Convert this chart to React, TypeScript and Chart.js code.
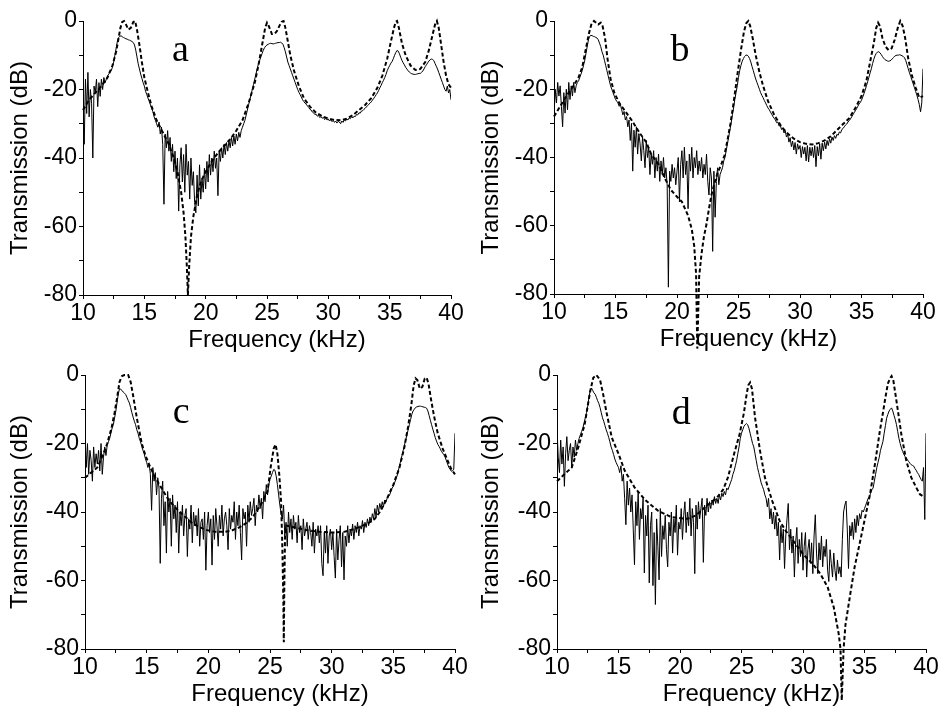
import React, { useEffect, useRef } from 'react';
import { Chart, registerables } from 'chart.js';

Chart.register(...registerables);

// Frequency grid of the measured (solid) curves: 10.0 ... 40.0 kHz, 0.1 kHz apart
const FREQ_START = 10;
const FREQ_STEP = 0.1;

// Measured transmission (dB), panel a
const solidA = [
  -25, -36, -17, -27, -15, -28, -20, -24, -40, -19,
  -21, -17, -25, -18, -22, -17, -20, -16.5, -18, -17,
  -16, -15.5, -15, -14.5, -13.5, -12, -10, -8, -6, -4.8,
  -4.5, -4.3, -4.6, -4.8, -5, -5.2, -5.3, -5.5, -5.6, -5.8,
  -6, -6.3, -7, -8.5, -10.5, -12.5, -14, -15.5, -16.7, -18,
  -19, -20.5, -21.5, -22.5, -23.5, -24.5, -25.5, -26.5, -28, -29,
  -30, -31, -29.5, -33, -31, -36, -53.5, -33, -37, -32,
  -38, -34, -41, -36, -44, -38, -46, -40, -55.5, -42,
  -37, -47, -39, -50, -36, -45, -41, -52, -40, -48,
  -44, -53, -56, -45, -54, -42, -52, -46, -50, -43,
  -49, -41, -47, -39, -45, -40, -44, -38, -43, -40,
  -51, -38, -41, -37, -40, -36, -39, -35.5, -38, -35,
  -37, -34, -36.5, -33.5, -36, -33, -35, -32.5, -34, -32,
  -31, -30, -29, -27.5, -26, -24.5, -23, -21.5, -20, -18.5,
  -17, -15.5, -14, -12.5, -11.5, -10.5, -9.5, -8.5, -7.8, -7.3,
  -7, -6.8, -6.6, -6.5, -6.6, -6.7, -6.6, -6.5, -6.4, -6.3,
  -6.3, -6.2, -6.4, -6.8, -7.8, -9, -10.5, -12, -13, -14,
  -15, -16, -17, -18, -19, -20, -20.8, -21.5, -22.2, -23,
  -23.5, -24, -24.3, -24.8, -25.2, -25.8, -26, -26.6, -26.8, -27.3,
  -27.2, -27.8, -27.5, -28.2, -27.9, -28.4, -28.1, -28.8, -28.4, -28.9,
  -28.6, -29.2, -28.8, -29.4, -29, -29.6, -29.2, -29.8, -29.3, -29.5,
  -30, -29.2, -29.6, -28.9, -29.2, -28.6, -28.9, -28.3, -28.5, -27.9,
  -28.3, -27.8, -27.9, -27.3, -27.4, -26.8, -26.9, -26.3, -26.2, -25.8,
  -25.5, -25.1, -24.7, -24.3, -24, -23.6, -23.1, -22.6, -22.1, -21.5,
  -21, -20.3, -19.5, -18.8, -18, -17.3, -16.5, -15.6, -14.5, -13.7,
  -13, -12.3, -11.8, -11, -10, -9.2, -8.6, -8.8, -9.6, -10.6,
  -11.5, -12.2, -12.8, -13.5, -14, -14.5, -14.9, -15.2, -15.4, -15.5,
  -15.6, -15.6, -15.5, -15.4, -15.3, -15.3, -15, -14.6, -14, -13.3,
  -12.8, -12.2, -11.7, -11.3, -11.1, -11.2, -11.6, -12.4, -13.2, -14,
  -15, -16, -17, -18, -19, -20, -20.5, -19, -21, -20,
  -23,
];

// Measured transmission (dB), panel b
const solidB = [
  -28, -20, -24, -18, -22, -19, -25, -31, -21, -27,
  -20, -26, -18, -23, -19, -22, -18, -21, -19, -18,
  -17.5, -16.5, -15.5, -14.5, -13, -11.5, -9.5, -7.5, -5.5, -4.5,
  -4.2, -4.3, -4.5, -4.6, -4.8, -5, -5.5, -6.5, -7.5, -9,
  -10, -11.5, -13, -14.5, -16, -17.5, -19, -20, -21, -22,
  -23, -23.5, -24, -25, -24.5, -26, -27.5, -26.5, -29, -28,
  -31, -29, -35, -30, -44, -32, -37, -31, -39, -33,
  -36, -41, -34, -38, -43, -35, -40, -37, -45, -39,
  -42, -38, -46, -40, -44, -39, -47, -41, -45, -40,
  -46, -43, -48, -78, -44, -47, -42, -46, -43, -48,
  -44, -40, -53, -42, -38, -46, -37, -45, -41, -55,
  -39, -44, -37, -46, -40, -43, -38, -45, -41, -44,
  -40, -46, -42, -45, -39, -47, -51, -43, -46, -67.5,
  -44, -57.5, -47, -43, -48, -45, -44, -43, -41, -40,
  -38, -36, -34, -32, -30, -27.5, -25.5, -23, -21, -19,
  -16.5, -14.5, -13, -11.8, -11, -10.4, -10, -10, -10.3, -11,
  -12, -13.3, -14.5, -15.8, -17, -18, -19, -20, -21, -21.8,
  -22.5, -23.3, -24, -24.8, -25.5, -26, -26.7, -27.3, -28, -28.5,
  -29, -29.8, -29.6, -30.8, -30.6, -31.8, -31.3, -32.8, -32.2, -34,
  -33.2, -35.5, -34.2, -36.8, -35.2, -37.8, -35.6, -39, -36, -37.6,
  -36.5, -40, -36.8, -39, -37, -41, -36.5, -41.3, -37, -39.5,
  -37, -40, -36.5, -42.7, -36.8, -39.5, -36, -40.5, -35.8, -38,
  -35.5, -37.5, -35, -36.5, -34.5, -35.8, -34, -35, -33.6, -34.4,
  -33.2, -33.5, -32.5, -32.8, -31.8, -31.5, -31, -30.5, -30.2, -29.6,
  -29.2, -28.7, -28.1, -27.5, -26.9, -26.3, -25.7, -25, -24.3, -23.9,
  -23.2, -22.3, -21.3, -20.2, -19, -17.8, -16.5, -15.2, -14, -12.5,
  -11.2, -10.2, -9.5, -9.1, -9, -9.3, -9.8, -10.4, -10.9, -11.3,
  -11.5, -11.7, -11.8, -11.7, -11.5, -11.1, -10.7, -10.3, -10.1, -10,
  -10, -9.9, -10, -10.2, -10.4, -10.8, -11.6, -12.8, -14, -15.2,
  -16.2, -17.3, -18.4, -19.5, -20.6, -21.7, -23, -24.5, -26.6, -24,
  -14,
];

// Measured transmission (dB), panel c
const solidC = [
  -17, -27, -20, -29, -22, -25, -31, -21, -27, -23,
  -26, -22, -28, -20, -29, -24, -21, -23.5, -20.5, -19.5,
  -18.5, -17, -15.5, -14.5, -12.5, -10.5, -8, -5.5, -4, -4.2,
  -4.5, -5, -5.3, -5.7, -6.5, -7.4, -8.2, -9.5, -11, -12.3,
  -13.5, -14.5, -16, -17, -18.5, -19.5, -20.8, -22, -23, -24.5,
  -25.5, -27, -26, -29, -39.5, -27, -31, -28.5, -35, -30,
  -33, -55, -36, -31, -44, -37, -52, -34, -40, -36,
  -50, -35, -42, -38, -46, -37, -52, -40, -44, -38,
  -47, -41, -39, -53, -42, -45, -38, -49, -40, -44,
  -41, -47, -39, -50, -43, -42, -48, -40, -57, -44,
  -40, -46, -42, -55.5, -41, -48, -39, -44, -50, -41,
  -45, -38, -47, -42, -40, -44, -51, -39, -45, -41,
  -43, -37, -48, -40, -44, -38, -46, -54, -39, -42,
  -40, -50, -38, -43, -37, -41, -39, -36, -44, -38,
  -40, -35, -39, -36, -42, -34, -37, -32, -35, -32,
  -30.5, -29.5, -28.5, -27.6, -27.8, -29.5, -32, -35, -38, -40.5,
  -42, -38, -47, -43, -50, -40, -46, -42, -48, -41,
  -45, -43, -49, -41, -46, -44, -51, -42, -47, -45,
  -43, -48, -44, -46, -50, -43, -52, -45, -47, -44,
  -49, -44, -55, -58.6, -46, -52, -44, -55, -47, -45,
  -51, -46, -53, -59.3, -45, -54, -48, -44, -56, -46,
  -59.8, -47, -50, -44, -49, -45, -47, -43.5, -48, -44,
  -46, -43, -47, -44, -45, -42.5, -46, -43, -44.5, -42,
  -44, -41.5, -43, -40.5, -42, -39, -41.5, -38, -40, -37.5,
  -39, -37, -38.5, -36.5, -37, -36, -35.5, -35, -34, -33,
  -32.5, -31.5, -30.5, -29.5, -28, -26.5, -25, -23.5, -22, -20.5,
  -19, -17.5, -16, -14.5, -13, -11.5, -10.5, -10, -9.5, -9.3,
  -9.2, -9.1, -9.1, -9.2, -9.3, -9.4, -9.5, -9.7, -10.5, -11.8,
  -13.2, -14.5, -15.8, -17, -18.3, -19.3, -20.2, -20.8, -21.5, -22.3,
  -22.8, -23.3, -24, -25, -26, -27, -27.5, -28.1, -28, -27.5,
  -17,
];

// Measured transmission (dB), panel d
const solidD = [
  -15.5, -24, -28.5, -19, -26, -21, -32.5, -23, -18, -25,
  -22, -20, -27, -21, -24, -19, -22, -20, -18.5, -17.5,
  -16.5, -15.5, -14, -12.5, -11, -9, -6.5, -4.5, -3.8, -4.5,
  -5.2, -5.6, -6.5, -7.5, -8.3, -9.5, -11, -12.5, -13.5, -14.8,
  -16, -17, -18.2, -19.5, -21, -22, -23.2, -24.5, -25.5, -26.3,
  -27, -28.5, -26.5, -31, -29, -36, -43.7, -31, -38, -33,
  -40, -35, -45, -55.4, -37, -44, -34, -48, -39, -42,
  -36, -57.8, -41, -47, -38, -60.7, -44, -40, -61.5, -46,
  -67, -42, -50, -59.8, -39, -53, -44, -48, -41, -51,
  -56, -43, -47, -40, -52, -42, -46, -38, -52.6, -43,
  -45, -39, -48, -41, -37, -46, -40, -44, -36, -47,
  -39, -43, -58, -38, -45, -37, -42, -39, -36, -54.7,
  -38, -41, -36, -40, -37, -39, -36.5, -38, -35.5, -37.5,
  -36, -37.5, -35, -36.5, -34.5, -35.5, -34, -35, -33, -33.5,
  -32.5, -31.5, -30.5, -29, -28, -26.5, -25, -23, -21, -18.5,
  -17, -16, -15, -14.5, -14.2, -14.5, -15.5, -17, -18.5, -20,
  -21, -23, -25, -27, -28.5, -30, -31.5, -32.5, -33.5, -35,
  -36, -38.5, -36, -42, -39, -43.5, -40, -45, -41, -47,
  -43, -54, -44, -49, -45, -56.5, -47, -42, -37.5, -51,
  -45, -52, -47, -59, -49, -44.5, -55, -48, -53, -46,
  -57, -50, -46, -59, -51, -48, -55, -49, -58, -47,
  -40.8, -52, -58, -49, -54, -47, -56, -50, -53, -48,
  -57, -60.3, -51, -55, -59, -52, -57, -60, -54, -58,
  -56, -59, -48, -40, -38, -36.8, -45, -56.5, -44, -47,
  -43, -48, -42, -46, -41, -44, -40.5, -42, -39.5, -40,
  -39, -38, -37, -36, -35.5, -34.5, -33.5, -33, -31, -29,
  -27, -25.5, -24, -22, -20.7, -19.4, -17, -14.8, -12.6, -11.5,
  -10.5, -10, -9.6, -10.5, -11.8, -13, -14.5, -16.5, -18.5, -20,
  -21.3, -22.3, -23.2, -23.8, -24.2, -24.8, -25.3, -25.8, -26.2, -26.4,
  -26.6, -27.3, -27.8, -28.5, -29, -29.8, -30.5, -31, -27, -42.2,
  -17,
];

// Calculated transmission (dashed), [frequency kHz, dB]
const dashA: [number, number][] = [
  [10, -26], [10.5, -23], [11, -21], [11.5, -19], [12, -16.5], [12.4, -13], [12.7, -9], [12.9, -5],
  [13.05, -2], [13.2, -0.3], [13.35, 0], [13.5, -1], [13.7, -2.5], [13.9, -2], [14.1, -0.3], [14.25, 0],
  [14.4, -2.5], [14.6, -7], [14.8, -12], [15, -16.5], [15.3, -21], [15.6, -25], [16, -29], [16.5, -32.5],
  [17, -36], [17.4, -40], [17.7, -44], [18, -50], [18.2, -56], [18.35, -63], [18.47, -72], [18.55, -80],
  [18.65, -72], [18.8, -63], [19, -57], [19.3, -51], [19.6, -47], [20, -44], [20.5, -41], [21, -38.5],
  [21.5, -36.5], [22, -34.5], [22.5, -32], [23, -29], [23.5, -24], [24, -18], [24.3, -13], [24.6, -7],
  [24.85, -2], [25, -0.5], [25.15, -1.5], [25.4, -3.8], [25.6, -3.8], [25.8, -3], [26, -1.5], [26.2, -0.2],
  [26.35, 0], [26.5, -2], [26.7, -6], [26.9, -10], [27.2, -14.5], [27.6, -19], [28, -22.5], [28.5, -25],
  [29, -26.8], [29.5, -27.8], [30, -28.5], [30.5, -28.9], [31, -29], [31.5, -28.5], [32, -27.5], [32.5, -26],
  [33, -24.5], [33.5, -22.5], [34, -19.5], [34.4, -16], [34.8, -11], [35.1, -6], [35.35, -2], [35.5, -0.2],
  [35.6, 0], [35.75, -2], [36, -6.5], [36.3, -10], [36.7, -13], [37.1, -14.3], [37.5, -14], [37.9, -12],
  [38.2, -8.5], [38.5, -4], [38.7, -1], [38.85, 0], [39, -2], [39.2, -7], [39.4, -12], [39.6, -16],
  [39.8, -18.5], [40, -19.5],
];

const dashB: [number, number][] = [
  [10, -28], [10.5, -25], [11, -22], [11.5, -19.5], [12, -16.5], [12.3, -13.5], [12.6, -8], [12.85, -3.5],
  [13.05, -0.8], [13.25, 0], [13.45, -0.6], [13.6, -1], [13.8, -0.5], [13.95, -1.5], [14.15, -5], [14.35, -11],
  [14.6, -17], [14.9, -21], [15.3, -24], [15.8, -26.5], [16.3, -29], [17, -33], [17.5, -35.5], [17.9, -39],
  [18.5, -42], [19, -46], [19.5, -49.5], [20, -51.5], [20.4, -53], [20.9, -57], [21.2, -61], [21.4, -66],
  [21.55, -74], [21.65, -96], [21.8, -75], [22, -68], [22.2, -63], [22.4, -59.5], [22.6, -55], [22.8, -51],
  [23.05, -47.5], [23.3, -44.5], [23.6, -42], [23.85, -39.5], [24.1, -35], [24.35, -30], [24.6, -24], [24.9, -16],
  [25.2, -8.5], [25.45, -3], [25.65, -0.5], [25.8, 0], [25.95, -1.5], [26.15, -5], [26.4, -10], [26.7, -15],
  [27, -19], [27.4, -23.5], [27.9, -27.5], [28.5, -31], [29, -33], [29.5, -34.5], [30, -35.5], [30.5, -36],
  [31, -36.2], [31.5, -35.8], [32, -35], [32.5, -33.8], [33, -32], [33.5, -30.2], [34, -28.5], [34.5, -25.5],
  [35, -22], [35.4, -17.5], [35.7, -12], [36, -6.5], [36.2, -2], [36.35, -0.5], [36.5, -1.5], [36.7, -5],
  [36.95, -7.5], [37.2, -8.5], [37.45, -8], [37.7, -5.5], [37.95, -2], [38.15, 0], [38.35, -1.5], [38.55, -5],
  [38.8, -11], [39.1, -16], [39.4, -19.5], [39.7, -22.5], [40, -22],
];

const dashC: [number, number][] = [
  [10, -30], [10.5, -28.5], [11, -27], [11.5, -23], [11.8, -20], [12.15, -15.5], [12.4, -11], [12.6, -6.7],
  [12.8, -2], [13, -0.3], [13.2, 0], [13.5, 0], [13.7, -2], [13.9, -6], [14.2, -12.5], [14.6, -20],
  [14.9, -23.5], [15.3, -27], [15.7, -30], [16.2, -33], [16.8, -36.6], [17.4, -39], [18, -41], [18.6, -43],
  [19.2, -44.3], [19.9, -45.3], [20.6, -45.8], [21.3, -45.8], [21.9, -45.4], [22.5, -44.5], [23, -43.4], [23.6, -41.5],
  [24.3, -37.6], [24.8, -34], [25.05, -27], [25.3, -21.5], [25.45, -20.3], [25.6, -23], [25.75, -29], [25.9, -37],
  [26, -50], [26.08, -65], [26.12, -78], [26.16, -62], [26.22, -47], [26.35, -44], [27, -44.5], [28, -45.3],
  [29, -45.8], [30, -46], [31, -45.8], [31.8, -45], [32.5, -44], [33, -43.2], [33.5, -42], [34, -39.5],
  [34.5, -36], [35, -32], [35.5, -27], [35.9, -21], [36.2, -15], [36.45, -9], [36.65, -3], [36.8, -1],
  [36.95, -1.5], [37.15, -4], [37.35, -3.5], [37.55, -1], [37.7, -0.8], [37.85, -2.5], [38.05, -7], [38.3, -12],
  [38.6, -17], [39, -21.5], [39.4, -25], [39.7, -27.5], [40, -29],
];

const dashD: [number, number][] = [
  [10, -31], [10.6, -29], [11.2, -27], [11.7, -21.5], [12.25, -14.4], [12.5, -9], [12.7, -4.7], [12.95, -0.8],
  [13.2, 0], [13.5, -1.4], [13.75, -5.6], [14, -10.5], [14.45, -18.2], [15, -23], [15.5, -27.9], [16.3, -32.8],
  [17.2, -36.6], [18.2, -39.6], [19.3, -41.5], [20.6, -42], [21.3, -41], [22, -38.7], [23, -35.8], [23.5, -33.5],
  [23.9, -29.9], [24.4, -23], [24.85, -17.2], [25.2, -11], [25.4, -6], [25.55, -3], [25.7, -2.2], [25.85, -4],
  [26.1, -12.4], [26.5, -22], [26.9, -29.9], [27.5, -36.8], [28.1, -42.6], [28.6, -45.5], [29.2, -48.4], [30, -52.3],
  [30.8, -55.2], [31.4, -58], [32, -61.9], [32.5, -67.8], [32.9, -75.5], [33.05, -80], [33.15, -95], [33.3, -80],
  [33.45, -73], [33.85, -63.8], [34.2, -56], [34.6, -49.3], [35, -42.5], [35.45, -34.8], [35.85, -26], [36.25, -16.3],
  [36.5, -11], [36.7, -6.6], [36.9, -2.5], [37.1, -0.8], [37.2, -0.3], [37.35, -1.7], [37.6, -7.6], [38, -17.4],
  [38.4, -25.1], [38.8, -29.9], [39.2, -32.8], [39.5, -34.8], [39.8, -35.5],
];

const PANEL_LETTERS = ['a', 'b', 'c', 'd'];
// letter anchor in data coordinates [kHz, dB]
const LETTER_POS: [number, number][] = [[17.95, -11.7], [20.24, -11.7], [17.8, -14.0], [20.1, -14.3]];

const X_TITLE = 'Frequency (kHz)';
const Y_TITLE = 'Transmission (dB)';

const SANS = "'Liberation Sans', Arial, Helvetica, sans-serif";
const SERIF = "'Liberation Serif', 'Times New Roman', Times, serif";

type Layout = { left: number; top: number; w: number; h: number; yW: number; padR: number; padT: number; xH: number };

const LAYOUTS: Layout[] = [
  { left: 0, top: 0, w: 471, h: 353, yW: 83, padR: 20, padT: 21, xH: 58 },
  { left: 471, top: 0, w: 471, h: 353, yW: 83, padR: 19, padT: 21, xH: 59 },
  { left: 0, top: 353, w: 471, h: 354, yW: 85, padR: 16, padT: 22, xH: 58 },
  { left: 471, top: 353, w: 471, h: 354, yW: 86, padR: 16, padT: 22, xH: 58 },
];

const SOLIDS = [solidA, solidB, solidC, solidD];
const DASHES = [dashA, dashB, dashC, dashD];

const overlayPlugin = {
  id: 'overlay',
  afterDraw(chart: any, _args: any, opts: any) {
    const { ctx, chartArea, scales } = chart;
    ctx.save();
    ctx.fillStyle = '#000';
    ctx.textAlign = 'center';
    ctx.textBaseline = 'alphabetic';
    ctx.font = `38px ${SERIF}`;
    ctx.fillText(opts.letter, scales.x.getPixelForValue(opts.lx), scales.y.getPixelForValue(opts.ly));
    ctx.font = `24px ${SANS}`;
    ctx.fillText(X_TITLE, (chartArea.left + chartArea.right) / 2 + 10, chartArea.bottom + 52);
    ctx.restore();
  },
};

function buildConfig(i: number): any {
  const L = LAYOUTS[i];
  const solid = SOLIDS[i].map((v, k) => ({ x: +(FREQ_START + k * FREQ_STEP).toFixed(2), y: v }));
  const dash = DASHES[i].map(([x, y]) => ({ x, y }));
  return {
    type: 'line',
    data: {
      datasets: [
        {
          data: solid,
          borderColor: '#000',
          borderWidth: 1,
          pointRadius: 0,
          tension: 0,
          fill: false,
          borderJoinStyle: 'bevel',
        },
        {
          data: dash,
          borderColor: '#000',
          borderWidth: 2,
          borderDash: [4, 2.5],
          pointRadius: 0,
          tension: 0,
          fill: false,
          clip: false,
        },
      ],
    },
    options: {
      animation: false,
      responsive: false,
      maintainAspectRatio: false,
      events: [],
      parsing: true,
      layout: { padding: { left: 0, right: L.padR, top: L.padT, bottom: 0 } },
      plugins: {
        legend: { display: false },
        tooltip: { enabled: false },
        overlay: { letter: PANEL_LETTERS[i], lx: LETTER_POS[i][0], ly: LETTER_POS[i][1] },
      },
      scales: {
        x: {
          type: 'linear',
          min: 10,
          max: 40,
          afterFit: (s: any) => {
            s.height = L.xH;
          },
          ticks: {
            stepSize: 2.5,
            autoSkip: false,
            maxRotation: 0,
            color: '#000',
            padding: 3,
            font: { family: SANS, size: 23, lineHeight: 1 },
            callback: (v: number) => (Math.abs(v % 5) < 1e-6 ? String(v) : ''),
          },
          grid: { drawOnChartArea: false, drawTicks: true, tickLength: 4, color: '#000', lineWidth: 1 },
          border: { display: true, color: '#000', width: 1 },
        },
        y: {
          type: 'linear',
          min: -80,
          max: 0,
          afterFit: (s: any) => {
            s.width = L.yW;
          },
          ticks: {
            stepSize: 10,
            autoSkip: false,
            color: '#000',
            padding: 2,
            font: { family: SANS, size: 23 },
            callback: (v: number) => (Math.abs(v % 20) < 1e-6 ? String(v) : ''),
          },
          grid: { drawOnChartArea: false, drawTicks: true, tickLength: 4, color: '#000', lineWidth: 1 },
          border: { display: true, color: '#000', width: 1 },
          title: {
            display: true,
            text: Y_TITLE,
            color: '#000',
            font: { family: SANS, size: 24 },
            padding: { top: 6, bottom: 0 },
          },
        },
      },
    },
    plugins: [overlayPlugin],
  };
}

function Panel({ index }: { index: number }) {
  const ref = useRef<HTMLCanvasElement>(null);
  const L = LAYOUTS[index];
  useEffect(() => {
    if (!ref.current) return;
    const chart = new Chart(ref.current, buildConfig(index));
    return () => chart.destroy();
  }, [index]);
  return (
    <canvas
      ref={ref}
      width={L.w}
      height={L.h}
      style={{ position: 'absolute', left: L.left, top: L.top, width: L.w, height: L.h }}
    />
  );
}

export default function App() {
  return (
    <div style={{ position: 'absolute', left: 0, top: 0, width: 942, height: 707, background: '#fff', overflow: 'hidden' }}>
      {[0, 1, 2, 3].map((i) => (
        <Panel key={i} index={i} />
      ))}
    </div>
  );
}
